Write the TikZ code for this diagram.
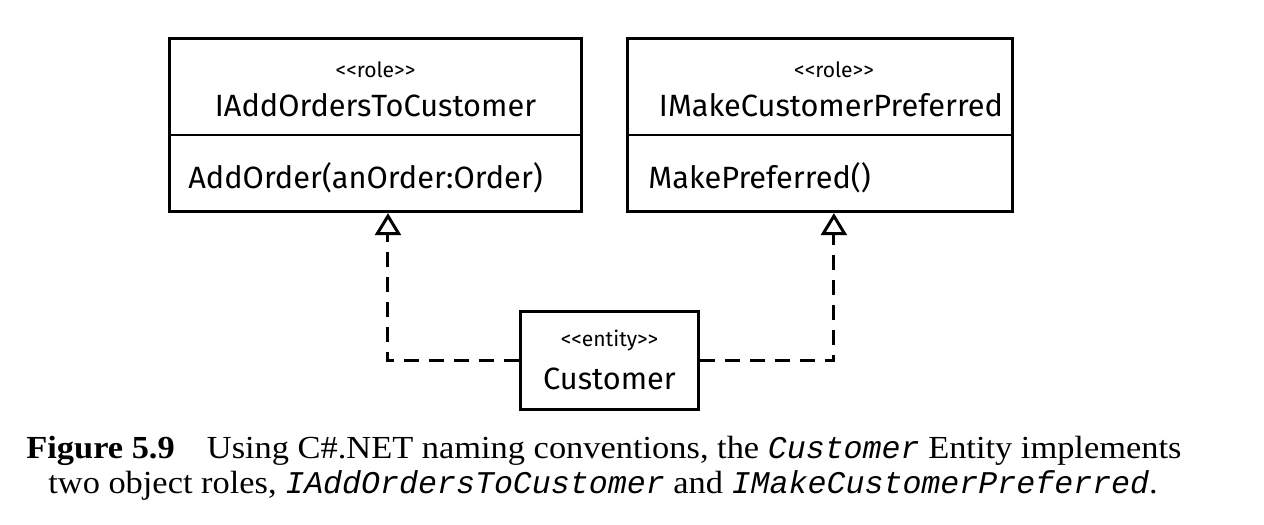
\documentclass[tikz,border=0pt]{standalone}
\usepackage{fontspec}
\setmainfont[FakeStretch=1.07]{Liberation Serif}
\setmonofont{Liberation Mono}
\newfontfamily\diag{Fira Sans}
\newcommand\codeit[1]{{\fontsize{18}{21}\selectfont\ttfamily\itshape #1}}
\usetikzlibrary{arrows.meta,calc}
\begin{document}
\begin{tikzpicture}[x=0.02cm,y=-0.02cm,
  umlbox/.style={draw,line width=1.7pt,rectangle,inner sep=0pt},
  stereo/.style={font=\diag\fontsize{12}{14}\selectfont,inner sep=0pt},
  cname/.style={font=\diag\fontsize{17.5}{20}\selectfont,inner sep=0pt},
  oper/.style={font=\diag\fontsize{17.5}{20}\selectfont,inner sep=0pt,anchor=west},
  realize/.style={line width=1.7pt,dash pattern=on 8.5pt off 5.7pt,
    -{Triangle[open,length=12.5pt,width=14.7pt,line width=1.7pt]}},
  divider/.style={line width=1.1pt},
  captext/.style={font=\fontsize{18.3}{22}\selectfont,inner sep=0pt,anchor=base west}]
\useasboundingbox (0,0) rectangle (1264,524);
% boxes
\node[umlbox,minimum width=234.1pt,minimum height=98.6pt] (L) at (375.5,125) {};
\node[umlbox,minimum width=218.8pt,minimum height=98.6pt] (R) at (820,125) {};
\node[umlbox,minimum width=101.5pt,minimum height=56.1pt] (C) at (609.5,360.5) {};
% dividers
\draw[divider] ($(L.north west)!0.557!(L.south west)$) -- ($(L.north east)!0.557!(L.south east)$);
\draw[divider] ($(R.north west)!0.557!(R.south west)$) -- ($(R.north east)!0.557!(R.south east)$);
% texts
\node[stereo] (Ls) at (375.5,70) {<<role>>};
\node[cname] (Ln) at (375.5,105) {IAddOrdersToCustomer};
\node[oper] (Lo) at (188,178) {AddOrder(anOrder:Order)};
\node[stereo] (Rs) at (834,70) {<<role>>};
\node[cname] (Rn) at (831,105) {IMakeCustomerPreferred};
\node[oper] (Ro) at (648,178) {MakePreferred()};
\node[stereo] (Cs) at (609.5,341) {<<entity>>};
\node[cname] (Cn) at (609.5,379) {Customer};
% connectors
\draw[realize] (C.west) -| ([xshift=7.1pt]L.south);
\draw[realize] (C.east) -| ([xshift=7.9pt]R.south);
% caption
\node[captext] (cap1) at (26,458) {\textbf{Figure 5.9}\quad Using C\#.NET naming conventions, the \codeit{Customer} Entity implements};
\node[captext] (cap2) at (48,493) {two object roles, \codeit{IAddOrdersToCustomer} and \codeit{IMakeCustomerPreferred}.};
\end{tikzpicture}
\end{document}
